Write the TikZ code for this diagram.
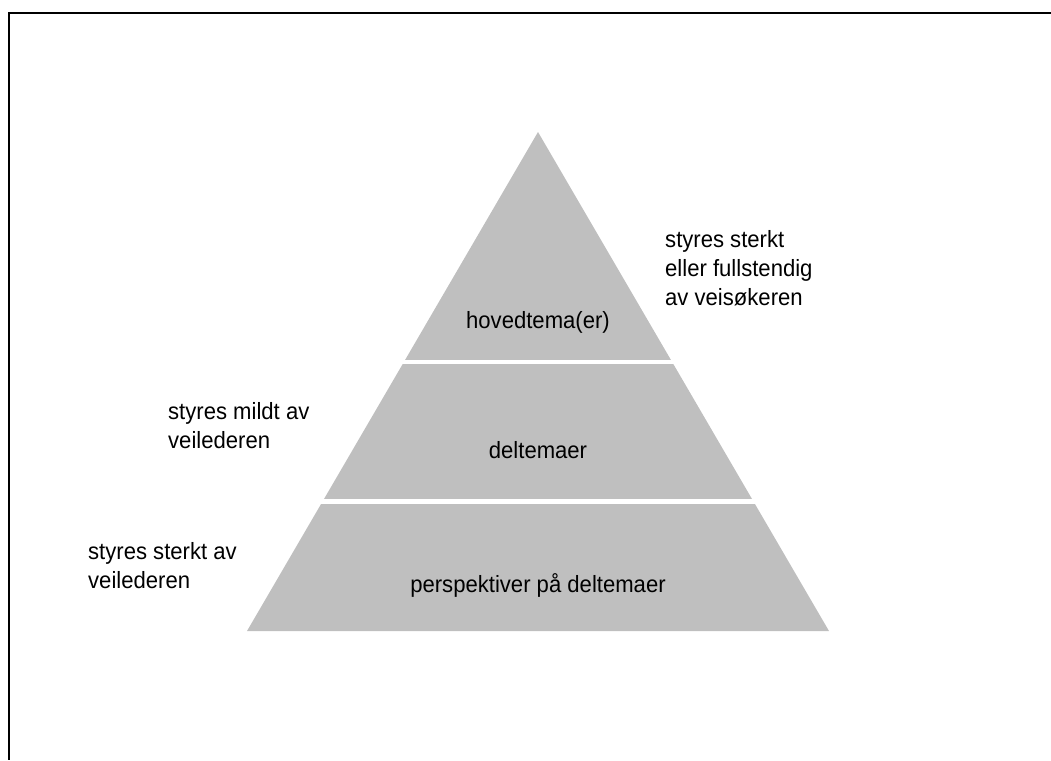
\documentclass[tikz,border=0pt]{standalone}
\usepackage{fontspec}
\setmainfont[FakeStretch=0.94]{Liberation Sans}
\begin{document}
\begin{tikzpicture}[x=1pt,y=-1pt,
  lbl/.style={inner sep=0pt,font=\fontsize{23.5}{29}\selectfont},
  side/.style={lbl,anchor=base west,align=left},
  mid/.style={lbl,anchor=base},
  frameline/.style={line width=2pt,black}]
\useasboundingbox (0,0) rectangle (1051,760);
% frame: top and left edges
\draw[frameline] (1051,13) -- (8.5,13) -- (8.5,760);
% pyramid
\coordinate (apex) at (538,132);
\coordinate (bl) at (247,631);
\coordinate (br) at (829,631);
\fill[black!25] (apex) -- (br) -- (bl) -- cycle;
% white gaps between the levels
\fill[white] (200,360) rectangle (880,364);
\fill[white] (200,499) rectangle (880,504);
% level labels
\node[mid] (top) at (538,328) {hovedtema(er)};
\node[mid] (middle) at (538,458) {deltemaer};
\node[mid] (bottom) at (538,592) {perspektiver på deltemaer};
% side notes (base anchor sits on the last line)
\node[side] (right) at (665,305) {styres sterkt\\eller fullstendig\\av veisøkeren};
\node[side] (mildt) at (168,448) {styres mildt av\\veilederen};
\node[side] (sterkt) at (88,588) {styres sterkt av\\veilederen};
\end{tikzpicture}
\end{document}
